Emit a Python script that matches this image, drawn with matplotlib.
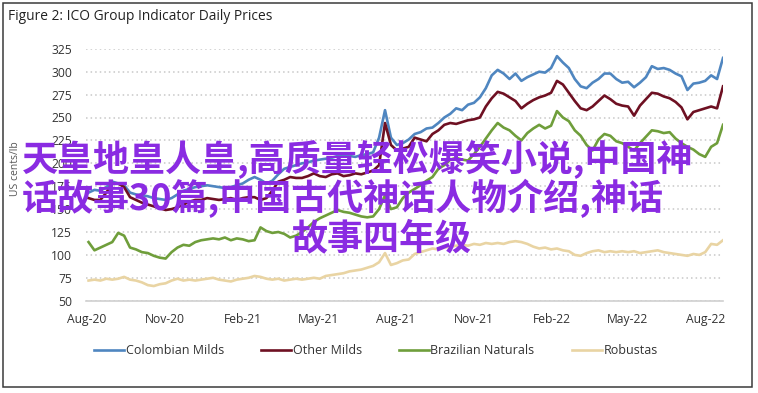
import matplotlib.pyplot as plt
import matplotlib.dates as mdates
from matplotlib.patches import Rectangle
import pandas as pd

# weekly readings, Aug 2020 - Aug 2022 (US cents/lb)
weeks = pd.date_range('2020-08-03', periods=108, freq='7D')

colombian = [168, 171, 170, 174, 180, 178, 176, 168, 166, 165,
             164, 162, 161, 160, 162, 166, 170, 172, 174, 175,
             176, 175, 174, 173, 174, 176, 178, 182, 185, 182,
             178, 181, 188, 194, 196, 198, 200, 201, 203, 204,
             205, 206, 208, 209, 208, 207, 209, 210, 212, 228,
             258, 228, 220, 222, 226, 232, 234, 238, 239, 244,
             250, 254, 260, 258, 264, 266, 272, 282, 296, 302,
             298, 292, 298, 290, 294, 297, 300, 299, 304, 317,
             310, 304, 292, 284, 282, 288, 292, 298, 298, 292,
             288, 289, 283, 288, 294, 306, 303, 304, 302, 298,
             295, 280, 287, 288, 290, 296, 292, 315]

other_milds = [162, 160, 160, 168, 178, 178, 174, 163, 160, 157,
               155, 153, 151, 149, 150, 152, 155, 158, 160, 160,
               162, 161, 160, 161, 162, 160, 162, 163, 163, 160,
               162, 170, 180, 182, 185, 184, 184, 186, 189, 186,
               185, 188, 189, 186, 187, 189, 188, 190, 192, 198,
               244, 220, 214, 216, 218, 228, 226, 224, 232, 236,
               242, 244, 243, 245, 247, 248, 250, 262, 271, 278,
               276, 272, 268, 260, 265, 269, 272, 274, 277, 290,
               286, 277, 268, 260, 258, 262, 268, 274, 270, 265,
               263, 262, 252, 263, 270, 277, 276, 273, 271, 267,
               261, 248, 256, 258, 260, 262, 260, 284]

brazilian = [114, 105, 108, 111, 114, 124, 121, 108, 106, 103,
             102, 99, 97, 96, 103, 108, 111, 110, 114, 116,
             117, 118, 117, 119, 116, 118, 117, 115, 116, 130,
             126, 124, 125, 123, 119, 121, 125, 130, 136, 140,
             143, 146, 149, 147, 146, 144, 142, 141, 142, 150,
             165, 150, 152, 162, 168, 172, 176, 181, 185, 194,
             198, 204, 206, 204, 203, 210, 218, 227, 236, 244,
             239, 236, 230, 225, 233, 238, 242, 238, 241, 257,
             250, 246, 236, 230, 220, 214, 226, 232, 230, 224,
             222, 218, 214, 222, 229, 236, 235, 233, 234, 227,
             222, 218, 215, 210, 207, 218, 222, 242]

robustas = [72, 73, 72, 74, 73, 74, 76, 73, 72, 70,
            67, 66, 68, 69, 72, 74, 72, 73, 72, 73,
            74, 75, 73, 72, 71, 73, 74, 75, 77, 76,
            74, 73, 74, 72, 73, 74, 73, 74, 75, 74,
            77, 78, 79, 80, 82, 83, 84, 86, 88, 92,
            102, 89, 91, 94, 95, 101, 103, 105, 107, 106,
            108, 109, 110, 111, 110, 112, 111, 113, 112, 113,
            112, 114, 115, 114, 112, 109, 107, 108, 106, 107,
            105, 104, 100, 99, 102, 104, 105, 103, 104, 103,
            104, 103, 104, 102, 103, 104, 105, 103, 102, 101,
            100, 99, 101, 100, 103, 112, 111, 116]

series = [('Colombian Milds', colombian, '#4f86c0'),
          ('Other Milds', other_milds, '#6e1022'),
          ('Brazilian Naturals', brazilian, '#6f9e3b'),
          ('Robustas', robustas, '#e9d4a3')]

yticks = [50, 75, 100, 125, 150, 175, 200, 225, 250, 275, 300, 325]

overlay = ['天皇地皇人皇,高质量轻松爆笑小说,中国神',
           '话故事30篇,中国古代神话人物介绍,神话',
           '故事四年级']

plt.rcParams['font.family'] = ['Open Sans', 'DejaVu Sans']

W, H = 758, 393
fig = plt.figure(figsize=(W / 100, H / 100), dpi=100)
ax = fig.add_axes([86 / W, 1 - 300.7 / H, (723 - 86) / W, (300.7 - 48.8) / H])

for name, vals, col in series:
    ax.plot(weeks, vals, color=col, lw=1.9, label=name)

ax.set_ylim(50, 325)
ax.set_yticks(yticks)
ax.set_xlim(pd.Timestamp('2020-07-31'), pd.Timestamp('2022-08-22'))
ax.xaxis.set_major_locator(mdates.MonthLocator(bymonth=[2, 5, 8, 11]))
ax.xaxis.set_major_formatter(mdates.DateFormatter('%b-%y'))
ax.grid(axis='y', color='#c8c8c8', linestyle=(0, (1, 2)), lw=1.1)
ax.set_axisbelow(True)
for s in ['top', 'right', 'left']:
    ax.spines[s].set_visible(False)
ax.spines['bottom'].set_color('#d0d0d0')
ax.spines['bottom'].set_linewidth(1.2)
ax.tick_params(axis='both', length=0, labelsize=8.7, colors='#333333')
ax.tick_params(axis='y', pad=10)
ax.tick_params(axis='x', pad=8.5)

fig.text(8 / W, 1 - 16 / H, 'Figure 2: ICO Group Indicator Daily Prices',
         fontsize=9.9, color='#222222', va='center', ha='left')
fig.text(15 / W, 1 - 169 / H, 'US cents/lb', rotation=90, fontsize=7.5,
         color='#555555', va='center', ha='center')

fig.legend(loc='center', bbox_to_anchor=(376 / W, 1 - 351 / H), ncol=4,
           frameon=False, fontsize=9.0, handlelength=2.4, handletextpad=0.1,
           columnspacing=3.0, labelcolor='#333333')

fig.add_artist(Rectangle((3 / W, 6 / H), 749 / W, 384 / H, transform=fig.transFigure,
                         fill=False, edgecolor='#3a3a3a', lw=1.1))

cjk = ['Noto Sans CJK SC', 'DejaVu Sans']
labels = []
for txt, x, y in zip(overlay, [22, 22, 292], [171, 210, 249]):
    labels.append(fig.text(x / W, 1 - y / H, txt, family=cjk, fontsize=26,
                           fontweight='bold', color='#8a2be2', ha='left', va='baseline'))

# fit the first overlay line to its width in the reference (22 -> 694 px)
fig.canvas.draw()
w = labels[0].get_window_extent(fig.canvas.get_renderer()).width
for t in labels:
    t.set_fontsize(26 * 672 / w)

fig.savefig('out.png', dpi=100)
